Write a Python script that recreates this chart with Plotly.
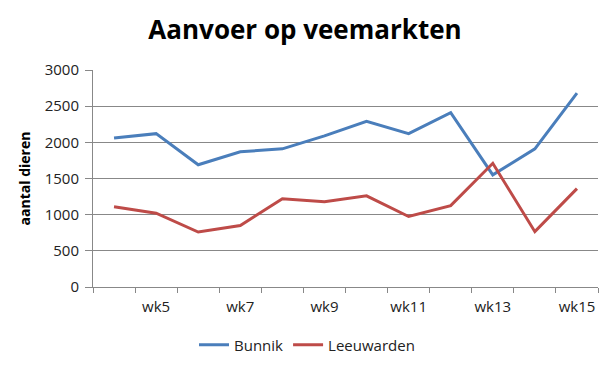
import plotly.graph_objects as go

weeks = ["wk4", "wk5", "wk6", "wk7", "wk8", "wk9", "wk10", "wk11", "wk12", "wk13", "wk14", "wk15"]
bunnik = [2060, 2120, 1690, 1870, 1910, 2090, 2290, 2120, 2410, 1550, 1910, 2680]
leeuwarden = [1110, 1020, 760, 850, 1220, 1180, 1260, 975, 1125, 1710, 765, 1360]
tick_text = [w if int(w[2:]) % 2 == 1 else "" for w in weeks]

fig = go.Figure()
fig.add_trace(go.Scatter(x=weeks, y=bunnik, mode="lines", name="Bunnik",
                         line=dict(color="#4A7EBB", width=3)))
fig.add_trace(go.Scatter(x=weeks, y=leeuwarden, mode="lines", name="Leeuwarden",
                         line=dict(color="#BE4B48", width=3)))

# page body has an 8px default margin, so the figure is shrunk by 8px
fig.update_layout(
    width=606, height=359,
    margin=dict(l=85, r=16, t=62, b=80, autoexpand=False),
    paper_bgcolor="white", plot_bgcolor="white",
    font=dict(family="Open Sans, Arial", size=15, color="#222"),
    title=dict(text="<b>Aanvoer op veemarkten</b>", x=(305 - 8) / 606, xanchor="center",
               y=1 - 22 / 359, yanchor="middle",
               font=dict(family="Open Sans", size=26, color="black")),
    showlegend=True,
    legend=dict(orientation="h", x=(307 - 93) / 505, xanchor="center",
                y=-(345 - 287) / 217, yanchor="middle",
                font=dict(size=15, color="#222")),
    xaxis=dict(type="category", tickmode="array", tickvals=weeks, ticktext=tick_text,
               tickson="boundaries", ticks="outside", ticklen=5, tickcolor="#888",
               showline=True, linecolor="#888", linewidth=1, showgrid=False,
               tickangle=0, range=[-0.5, 11.5], ticklabelstandoff=6,
               tickfont=dict(size=15)),
    yaxis=dict(range=[0, 3000], dtick=500, tickmode="linear", tick0=0,
               showgrid=True, gridcolor="#888", gridwidth=1,
               showline=True, linecolor="#888", ticks="outside", ticklen=7, tickcolor="#888",
               zeroline=False, ticklabelstandoff=3,
               title=dict(text="<b>aantal dieren</b>", font=dict(size=14, color="black"), standoff=10),
               tickfont=dict(size=15)),
)

fig.write_html("out.html")
